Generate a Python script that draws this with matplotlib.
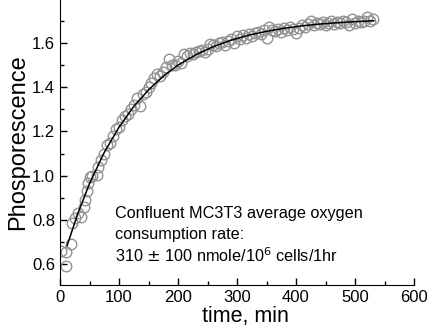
import numpy as np
import matplotlib
matplotlib.use('Agg')
import matplotlib.pyplot as plt
from matplotlib.ticker import MultipleLocator

plt.rcParams['font.family'] = ['Liberation Sans', 'DejaVu Sans']

# measured phosphorescence (open circles)
t_data = [1, 10, 11, 18, 20, 25, 31, 35, 40, 42, 45, 47, 51, 55, 62, 65,
          70, 75, 80, 85, 90, 95, 100, 105, 110, 115, 120, 125, 130, 135,
          140, 145, 150, 155, 160, 165, 170, 175, 180, 185, 190, 195, 200,
          205, 210, 215, 220, 225, 230, 235, 240, 245, 250, 255, 260, 265,
          270, 275, 280, 285, 290, 295, 300, 305, 310, 315, 320, 325, 330,
          335, 340, 345, 350, 355, 360, 365, 370, 375, 380, 385, 390, 395,
          400, 405, 410, 415, 420, 425, 430, 435, 440, 445, 450, 455, 460,
          465, 470, 475, 480, 485, 490, 495, 500, 505, 510, 515, 520, 525, 530]
y_data = [0.66, 0.59, 0.655, 0.69, 0.785, 0.81, 0.83, 0.815, 0.86, 0.89, 0.93, 0.965, 0.995, 1.0, 1.005, 1.04,
          1.07, 1.10, 1.14, 1.15, 1.18, 1.21, 1.22, 1.25, 1.27, 1.28, 1.30, 1.32, 1.35, 1.315,
          1.37, 1.38, 1.40, 1.42, 1.44, 1.46, 1.45, 1.47, 1.49, 1.53, 1.50, 1.50, 1.52,
          1.51, 1.55, 1.54, 1.555, 1.55, 1.56, 1.565, 1.57, 1.56, 1.575, 1.595, 1.59, 1.585,
          1.60, 1.605, 1.59, 1.61, 1.62, 1.60, 1.63, 1.62, 1.635, 1.625, 1.64, 1.63, 1.645,
          1.65, 1.64, 1.66, 1.625, 1.675, 1.66, 1.655, 1.665, 1.65, 1.67, 1.66, 1.675, 1.665,
          1.645, 1.67, 1.68, 1.675, 1.685, 1.70, 1.68, 1.69, 1.685, 1.695, 1.68, 1.69, 1.70,
          1.685, 1.695, 1.69, 1.70, 1.695, 1.68, 1.71, 1.69, 1.70, 1.695, 1.70, 1.72, 1.70, 1.71]

# fitted curve
t_fit = [12, 30, 50, 75, 100, 125, 150, 175, 200, 230, 260, 290, 320, 350,
         380, 410, 440, 470, 500, 532]
y_fit = [0.683, 0.827, 0.964, 1.105, 1.219, 1.313, 1.388, 1.450, 1.500, 1.547,
         1.584, 1.613, 1.636, 1.653, 1.667, 1.678, 1.686, 1.692, 1.697, 1.701]

note_lines = ['Confluent MC3T3 average oxygen',
              'consumption rate:',
              r'310 $\pm$ 100 nmole/10$^{6}$ cells/1hr']

fig = plt.figure(figsize=(4.3, 3.32), dpi=100)
ax = fig.add_axes([60/430, 1-285/332, 354/430, 285/332])

ax.plot(t_data, y_data, 'o', ms=7.6, mfc='none', mec='#939393', mew=1.0)
ax.plot(t_fit, y_fit, '-', color='black', lw=1.1)

ax.set_xlim(0, 600)
ax.set_ylim(0.505, 1.795)
ax.xaxis.set_major_locator(MultipleLocator(100))
ax.xaxis.set_minor_locator(MultipleLocator(50))
ax.yaxis.set_major_locator(MultipleLocator(0.2))
ax.yaxis.set_minor_locator(MultipleLocator(0.1))
ax.tick_params(which='both', direction='in', labelsize=12, width=1)
ax.tick_params(which='major', length=5)
ax.tick_params(which='minor', length=3)
ax.spines['top'].set_visible(False)
ax.spines['right'].set_visible(False)

ax.set_xlabel('time, min', fontsize=15.5)
ax.xaxis.set_label_coords(0.525, -0.075)
ax.set_ylabel('Phosporescence', fontsize=17, labelpad=2)

for i, line in enumerate(note_lines):
    ax.text(93, 0.83 - i*0.097, line, fontsize=11.7, va='center')

fig.savefig('out.png', dpi=100)
